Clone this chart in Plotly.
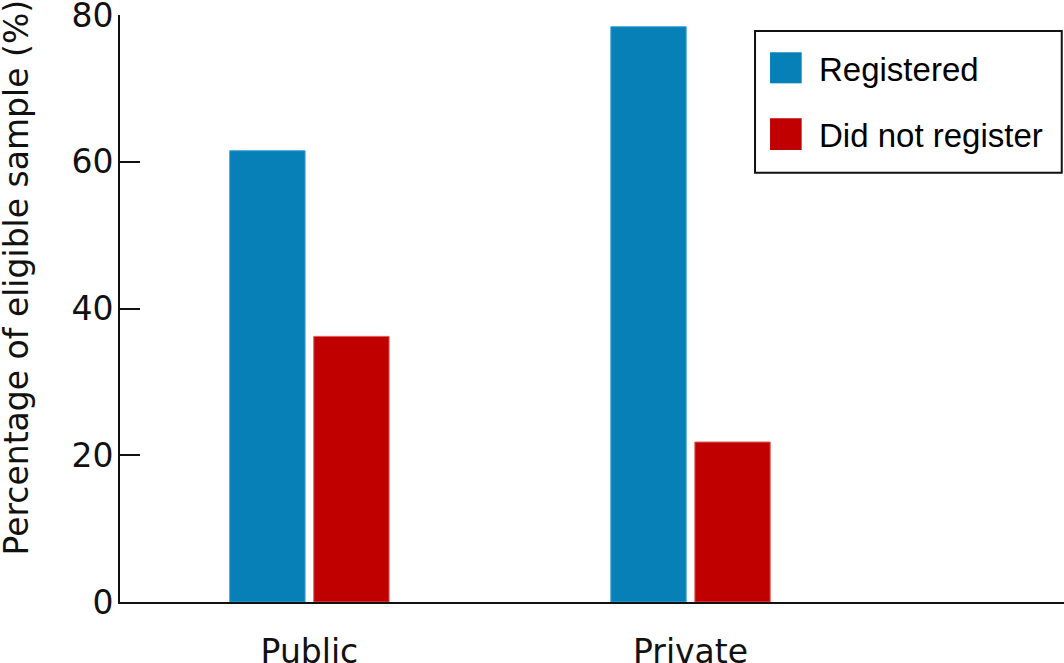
import plotly.graph_objects as go

categories = ["Public", "Private"]
series_names = ["Registered", "Did not register"]
registered = [61.5, 78.4]
did_not_register = [36.2, 21.8]
y_ticks = [0, 20, 40, 60, 80]
y_title = "Percentage of eligible sample (%)"

colors = ["#0680b7", "#c00000"]
edge_colors = ["#3aa0d4", "#e05a5a"]

fig = go.Figure()
for name, vals, c, ec in zip(series_names, [registered, did_not_register], colors, edge_colors):
    fig.add_trace(go.Bar(
        x=categories, y=vals, name=name,
        marker=dict(color=c, line=dict(color=ec, width=1)),
        showlegend=False,
    ))

# custom legend (box + swatches + labels), in paper coordinates
shapes = [
    dict(type="rect", xref="paper", yref="paper", x0=0.6727, x1=0.9976, y0=0.7313, y1=0.9727,
         line=dict(color="#111111", width=2), fillcolor="white", layer="above"),
    dict(type="rect", xref="paper", yref="paper", x0=0.6886, x1=0.7221, y0=0.8836, y1=0.9365,
         line=dict(width=0), fillcolor=colors[0], layer="above"),
    dict(type="rect", xref="paper", yref="paper", x0=0.6886, x1=0.7221, y0=0.7700, y1=0.8240,
         line=dict(width=0), fillcolor=colors[1], layer="above"),
]
annotations = [
    dict(text=series_names[0], xref="paper", yref="paper", x=0.738, y=0.908,
         xanchor="left", yanchor="middle", showarrow=False,
         font=dict(family="Liberation Sans, Arial", size=33, color="#000000")),
    dict(text=series_names[1], xref="paper", yref="paper", x=0.738, y=0.794,
         xanchor="left", yanchor="middle", showarrow=False,
         font=dict(family="Liberation Sans, Arial", size=33, color="#000000")),
    dict(text=y_title, xref="paper", yref="paper", x=-0.11, y=0.553,
         xanchor="center", yanchor="middle", showarrow=False, textangle=-90,
         font=dict(family="DejaVu Sans", size=33, color="#111111")),
]

fig.update_layout(
    width=1064, height=663,
    margin=dict(l=120, r=0, t=15, b=61, autoexpand=False),
    paper_bgcolor="white", plot_bgcolor="white",
    barmode="group", bargap=0.559, bargroupgap=0.1036,
    font=dict(family="DejaVu Sans", size=33, color="#111111"),
    shapes=shapes, annotations=annotations,
    xaxis=dict(
        range=[-0.497, 1.98], showgrid=False, zeroline=False, automargin=False,
        showline=True, linecolor="#111111", linewidth=2,
        ticks="", tickfont=dict(family="DejaVu Sans", size=33, color="#111111"),
        ticklabelstandoff=19, ticklabeloverflow="allow",
    ),
    yaxis=dict(
        range=[0, 80], tickvals=y_ticks, showgrid=False, zeroline=False, automargin=False,
        showline=True, linecolor="#111111", linewidth=2,
        ticks="inside", ticklen=20, tickwidth=2, tickcolor="#111111",
        tickfont=dict(family="DejaVu Sans", size=33, color="#111111"),
        ticklabelstandoff=-2, ticklabeloverflow="allow",
    ),
)

fig.write_html("out.html", config={"displayModeBar": False},
               post_script="document.body.style.margin='0';")
